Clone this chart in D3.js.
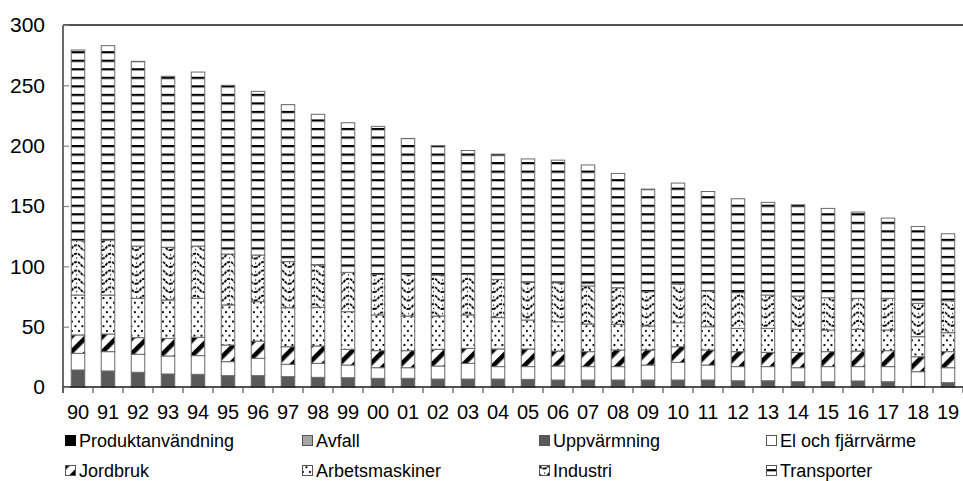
<!DOCTYPE html>
<html><head><meta charset="utf-8">
<script src="https://cdn.jsdelivr.net/npm/d3@7"></script>
<style>body{margin:0;background:#fff}svg{display:block;font-family:"Liberation Sans",Arial,sans-serif}</style>
</head><body><svg id="c" width="963" height="481"></svg>
<script>
const years = ["90","91","92","93","94","95","96","97","98","99","00","01","02","03","04","05","06","07","08","09","10","11","12","13","14","15","16","17","18","19"];
const seriesNames = ["Produktanvändning","Avfall","Uppvärmning","El och fjärrvärme","Jordbruk","Arbetsmaskiner","Industri","Transporter"];
const produktanvandning = [0.2,0.2,0.2,0.2,0.2,0.2,0.2,0.2,0.2,0.2,0.2,0.2,0.2,0.2,0.2,0.2,0.2,0.2,0.2,0.2,0.2,0.2,0.2,0.2,0.2,0.2,0.2,0.2,0.2,0.2];
const avfall = [0.3,0.3,0.3,0.3,0.3,0.3,0.3,0.3,0.3,0.3,0.3,0.3,0.3,0.3,0.3,0.3,0.3,0.3,0.3,0.3,0.3,0.3,0.3,0.3,0.3,0.3,0.3,0.3,0.3,0.3];
const uppvarmning = [13.6,12.8,11.7,10.3,10.0,8.9,8.9,8.1,7.5,7.2,6.7,6.7,6.1,6.1,6.1,5.8,5.3,5.3,5.3,5.3,5.3,5.3,4.7,4.7,3.9,3.9,4.5,3.9,0,3.1];
const elFjarrvarme = [13.8,16.0,14.9,14.9,15.5,11.6,14.4,10.2,11.6,10.5,8.8,8.8,10.8,13.0,10.3,10.6,11.6,11.1,11.1,12.4,14.6,12.4,11.7,11.7,11.6,12.5,11.9,12.5,12.2,12.4];
const jordbruk = [15.2,14.6,13.8,14.6,15.2,13.8,14.3,14.6,14.4,13.0,14.1,14.1,13.8,12.4,14.6,14.6,12.4,12.4,13.8,12.5,13.0,12.5,12.4,11.8,12.7,12.4,12.9,13.2,12.4,13.3];
const arbetsmaskiner = [33.1,32.3,32.6,31.8,32.3,33.2,32.6,32.3,32.0,31.2,29.6,28.7,27.6,27.7,26.0,24.0,24.3,22.9,21.3,19.9,19.9,19.3,19.3,19.9,19.1,17.9,18.0,17.1,16.6,15.7];
const industri = [45.1,45.6,43.3,43.7,43.3,42.2,38.7,38.2,35.1,32.6,33.7,34.6,34.0,33.7,31.7,31.2,32.3,31.5,30.3,28.4,32.1,29.6,29.6,27.6,27.6,26.8,25.7,26.3,27.6,26.5];
const transporter = [158.0,161.1,153.1,141.7,144.2,139.8,135.6,130.1,124.9,124.0,122.6,112.6,107.2,102.6,103.8,102.3,101.6,100.3,94.7,85.0,83.6,82.4,77.8,76.8,75.6,74.0,71.5,66.5,63.7,55.5];
const yTicks = [0,50,100,150,200,250,300];

const seriesValues = [produktanvandning,avfall,uppvarmning,elFjarrvarme,jordbruk,arbetsmaskiner,industri,transporter];
const keys = seriesNames;
const table = years.map((y,i)=>{const o={year:y};keys.forEach((k,j)=>o[k]=seriesValues[j][i]);return o;});

const svg = d3.select("#c");
const M = {left:63, right:963, top:25, bottom:387};
const x = d3.scaleBand().domain(years).range([M.left,M.right]).paddingInner(0.55).paddingOuter(0.275);
const xb = d3.scaleBand().domain(years).range([M.left,M.right]);
const y = d3.scaleLinear().domain([0,300]).range([M.bottom,M.top]);

// patterns
const defs = svg.append("defs");
const pT = defs.append("pattern").attr("id","pTrans").attr("patternUnits","userSpaceOnUse").attr("width",8).attr("height",8.53);
pT.append("rect").attr("width",8).attr("height",8.53).attr("fill","#fff");
pT.append("rect").attr("y",0).attr("width",8).attr("height",2.2).attr("fill","#000");

const pI = defs.append("pattern").attr("id","pInd").attr("patternUnits","userSpaceOnUse").attr("width",17).attr("height",8.4);
pI.append("rect").attr("width",17).attr("height",8.4).attr("fill","#fff");
pI.append("path").attr("d","M0,6.6 C4.5,6.6 4,1.6 8.5,1.6 C13,1.6 12.5,6.6 17,6.6").attr("fill","none").attr("stroke","#000").attr("stroke-width",1.8).attr("stroke-dasharray","3,0.8");
pI.append("rect").attr("x",8).attr("y",5.5).attr("width",1.2).attr("height",1.2).attr("fill","#000");
pI.append("rect").attr("x",0).attr("y",2.2).attr("width",1.2).attr("height",1.2).attr("fill","#000");

const pA = defs.append("pattern").attr("id","pArb").attr("patternUnits","userSpaceOnUse").attr("width",7).attr("height",9.4);
pA.append("rect").attr("width",7).attr("height",9.4).attr("fill","#fff");
pA.append("rect").attr("x",1).attr("y",1).attr("width",1.9).attr("height",1.9).attr("fill","#000");
pA.append("rect").attr("x",4.5).attr("y",5.7).attr("width",1.9).attr("height",1.9).attr("fill","#000");

const pJ = defs.append("pattern").attr("id","pJord").attr("patternUnits","userSpaceOnUse").attr("width",11).attr("height",11).attr("patternTransform","rotate(45)");
pJ.append("rect").attr("width",11).attr("height",11).attr("fill","#fff");
pJ.append("rect").attr("width",4.6).attr("height",11).attr("fill","#000");

const fills = ["#000","#a6a6a6","#595959","#fff","url(#pJord)","url(#pArb)","url(#pInd)","url(#pTrans)"];

const stack = d3.stack().keys(keys)(table);

const g = svg.append("g");
stack.forEach((layer,li)=>{
  g.selectAll(null).data(layer).enter().append("rect")
    .attr("x",d=>x(d.data.year)).attr("width",x.bandwidth())
    .attr("y",d=>y(d[1])).attr("height",d=>Math.max(0,y(d[0])-y(d[1])))
    .attr("fill",fills[li]).attr("stroke","#6a6a6a").attr("stroke-width",1);
});

// axes
svg.append("line").attr("x1",M.left).attr("x2",M.right).attr("y1",M.top).attr("y2",M.top).attr("stroke","#1a1a1a").attr("stroke-width",1.5);
svg.append("line").attr("x1",M.left).attr("x2",M.left).attr("y1",M.top).attr("y2",M.bottom+6).attr("stroke","#1a1a1a").attr("stroke-width",1.3);
svg.append("line").attr("x1",M.left).attr("x2",M.right).attr("y1",M.bottom).attr("y2",M.bottom).attr("stroke","#1a1a1a").attr("stroke-width",1.3);

const yAxis = svg.append("g").attr("transform",`translate(${M.left},0)`)
  .call(d3.axisRight(y).tickValues(yTicks).tickSize(6).tickFormat(d3.format("d")));
yAxis.select(".domain").remove();
yAxis.selectAll(".tick line").attr("stroke","#7f7f7f").attr("stroke-width",1.2);
yAxis.selectAll(".tick text").attr("x",-18).attr("text-anchor","end").attr("font-size",21).attr("fill","#000").attr("font-family","Liberation Sans, Arial");

// x ticks at band boundaries
const bounds = years.map(d=>xb(d)).concat([M.right]);
svg.append("g").selectAll("line").data(bounds).enter().append("line")
  .attr("x1",d=>d).attr("x2",d=>d).attr("y1",M.bottom).attr("y2",M.bottom+6)
  .attr("stroke","#555").attr("stroke-width",1.2);
svg.append("g").selectAll("text").data(years).enter().append("text")
  .attr("x",d=>xb(d)+xb.bandwidth()/2).attr("y",419).attr("text-anchor","middle")
  .attr("font-size",20).attr("fill","#000").text(d=>d);

// legend
const legX = [65,302,539,766], legY = [441,471];
const leg = svg.append("g");
keys.forEach((k,i)=>{
  const cx = legX[i%4], cy = legY[Math.floor(i/4)];
  leg.append("rect").attr("x",cx+0.5).attr("y",cy-5.5).attr("width",10).attr("height",10)
    .attr("fill",fills[i]).attr("stroke",i===0?"#000":"#555").attr("stroke-width",1);
  leg.append("text").attr("x",cx+14).attr("y",cy+6).attr("font-size",18).attr("fill","#000").text(k);
});
</script></body></html>
